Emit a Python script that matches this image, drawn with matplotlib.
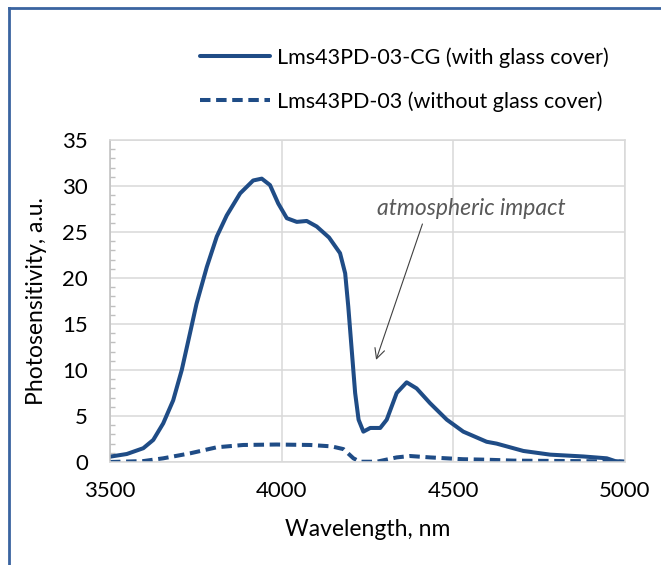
import matplotlib
matplotlib.use("Agg")
import matplotlib.pyplot as plt
from matplotlib.lines import Line2D
from matplotlib.ticker import MultipleLocator

plt.rcParams['font.family'] = ['Lato', 'DejaVu Sans']

# wavelength (nm) and photosensitivity (a.u.)
wl_cg = [3500, 3549, 3597, 3626, 3655, 3684, 3709, 3733, 3752, 3782, 3811,
         3840, 3879, 3917, 3942, 3966, 3990, 4015, 4044, 4073, 4102, 4138,
         4170, 4185, 4194, 4204, 4214, 4224, 4238, 4258, 4287, 4306, 4335,
         4364, 4393, 4432, 4481, 4529, 4597, 4626, 4704, 4782, 4879, 4947,
         4971, 5000]
ps_cg = [0.58, 0.87, 1.5, 2.4, 4.2, 6.7, 10.0, 14.0, 17.2, 21.2, 24.5,
         26.8, 29.2, 30.6, 30.8, 30.1, 28.1, 26.5, 26.1, 26.2, 25.6, 24.4,
         22.7, 20.5, 16.9, 12.2, 7.5, 4.6, 3.3, 3.7, 3.7, 4.6, 7.5,
         8.66, 8.0, 6.4, 4.6, 3.3, 2.2, 2.0, 1.2, 0.8, 0.6, 0.4,
         0.1, 0.0]

wl_bare = [3500, 3597, 3655, 3733, 3811, 3888, 3985, 4083, 4145, 4180, 4209,
           4228, 4277, 4335, 4374, 4432, 4529, 4597, 4675, 4850, 5000]
ps_bare = [0.0, 0.1, 0.4, 0.94, 1.6, 1.85, 1.9, 1.85, 1.7, 1.4, 0.4,
           0.03, 0.03, 0.5, 0.65, 0.5, 0.3, 0.25, 0.15, 0.1, 0.05]

label_cg = "Lms43PD-03-CG (with glass cover)"
label_bare = "Lms43PD-03 (without glass cover)"

W, H = 661, 565
fig = plt.figure(figsize=(W / 100, H / 100), dpi=100)
ax = fig.add_axes([110 / W, 1 - 462 / H, 515 / W, 322 / H])

blue = "#1F4C86"
grid_c = "#D9D9D9"

ax.plot(wl_cg, ps_cg, color=blue, lw=2.9, label=label_cg,
        solid_capstyle="round", solid_joinstyle="round")
ax.plot(wl_bare, ps_bare, color=blue, lw=2.9, ls=(0, (2.6, 1.4)), label=label_bare)

ax.set_xlim(3500, 5000)
ax.set_ylim(0, 35)
ax.set_xticks([3500, 4000, 4500, 5000])
ax.set_yticks(range(0, 36, 5))
ax.yaxis.set_minor_locator(MultipleLocator(1))
ax.grid(True, which="major", color=grid_c, lw=1.1)
ax.set_axisbelow(True)
for s in ax.spines.values():
    s.set_color(grid_c)
    s.set_linewidth(1.1)
ax.spines["left"].set_color("#BFBFBF")
ax.tick_params(which="major", length=0, labelsize=16, colors="#000000")
ax.tick_params(axis="x", pad=14)
ax.tick_params(axis="y", pad=16)
ax.tick_params(axis="y", which="minor", direction="in", length=3.5,
               width=1.0, color="#BFBFBF")
ax.tick_params(axis="x", which="minor", length=0)

ax.set_xlabel("Wavelength, nm", fontsize=16.5, labelpad=13)
ax.set_ylabel("Photosensitivity, a.u.", fontsize=16.5, labelpad=11)

ax.annotate("atmospheric impact", xy=(4275, 11.1), xytext=(4278, 27.6),
            fontsize=16.5, style="italic", color="#595959", va="center", ha="left",
            arrowprops=dict(arrowstyle="->", color="#404040", lw=0.8,
                            shrinkA=2, shrinkB=0, mutation_scale=18,
                            relpos=(0.25, 0.0)))

fig.legend(loc="center left", bbox_to_anchor=(200 / W, 1 - 79.5 / H),
           frameon=False, fontsize=15.5, handlelength=3.25, handletextpad=0.33,
           labelspacing=1.08, borderpad=0, borderaxespad=0)

# outer chart border (left and top visible)
fig.add_artist(Line2D([8.5 / W, 8.5 / W], [0, 1 - 7.5 / H], color="#3A64A0",
                      lw=2.0, transform=fig.transFigure))
fig.add_artist(Line2D([8.5 / W, 1], [1 - 7.5 / H, 1 - 7.5 / H], color="#3A64A0",
                      lw=2.0, transform=fig.transFigure))

fig.savefig("out.png", dpi=100)
